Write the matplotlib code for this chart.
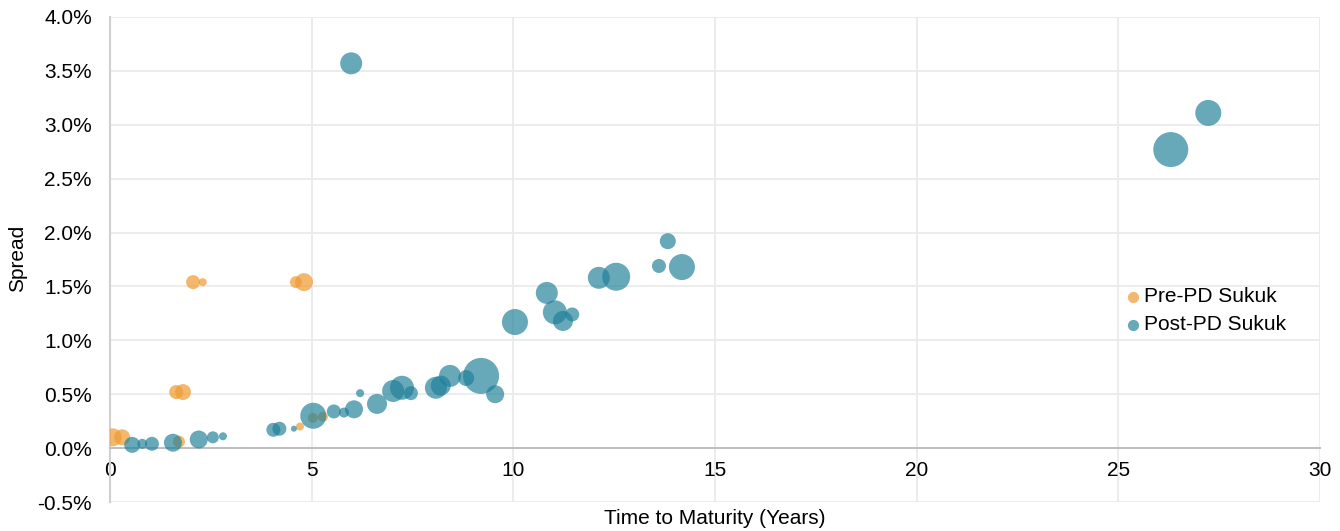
import matplotlib
matplotlib.use("Agg")
import matplotlib.pyplot as plt
from matplotlib.ticker import FuncFormatter, MultipleLocator
import numpy as np

plt.rcParams['font.family'] = ['Liberation Sans', 'DejaVu Sans']

# Pre-PD Sukuk: maturity (years), spread (%), bubble size (relative issue size)
pre_maturity = [0.07, 0.30, 2.06, 2.30, 1.64, 1.81, 4.61, 4.81, 1.71, 4.71, 5.03, 5.28]
pre_spread   = [0.10, 0.10, 1.54, 1.54, 0.52, 0.52, 1.54, 1.54, 0.06, 0.20, 0.28, 0.29]
pre_size     = [81, 64, 49, 16, 49, 64, 36, 81, 36, 16, 25, 25]

# Post-PD Sukuk
post_maturity = [0.55, 0.80, 1.04, 1.56, 2.20, 2.55, 2.80, 4.05, 4.20, 4.56, 5.04,
                 5.55, 5.80, 6.05, 6.20, 6.62, 7.02, 7.24, 7.46, 8.08, 8.20, 8.43,
                 8.83, 9.20, 9.55, 10.04, 10.83, 11.03, 11.23, 11.46, 12.12, 12.55,
                 13.61, 13.83, 14.18, 5.98, 26.30, 27.23]
post_spread   = [0.03, 0.04, 0.04, 0.05, 0.08, 0.10, 0.11, 0.17, 0.18, 0.18, 0.30,
                 0.34, 0.33, 0.36, 0.51, 0.41, 0.53, 0.56, 0.51, 0.56, 0.58, 0.67,
                 0.65, 0.67, 0.50, 1.17, 1.44, 1.26, 1.18, 1.24, 1.58, 1.59,
                 1.69, 1.92, 1.68, 3.57, 2.77, 3.11]
post_size     = [64, 25, 49, 81, 81, 36, 16, 49, 49, 9, 169,
                 49, 25, 81, 16, 100, 121, 144, 49, 121, 100, 121,
                 64, 324, 81, 169, 121, 144, 100, 49, 121, 196,
                 49, 64, 169, 121, 306, 169]

x_ticks = [0, 5, 10, 15, 20, 25, 30]

fig = plt.figure(figsize=(13.40, 5.31), dpi=100)
ax = fig.add_axes([110/1340, 1-502/531, (1320-110)/1340, (502-17)/531])

px_to_pt = 0.72 * 2  # radius px -> diameter pt
def area(v):
    return (np.sqrt(np.array(v, dtype=float)) * px_to_pt) ** 2

orange = (239/255, 155/255, 48/255)
teal = (31/255, 128/255, 153/255)

ax.scatter(pre_maturity, pre_spread, s=area(pre_size), color=orange, alpha=0.7,
           linewidths=0, label='Pre-PD Sukuk', zorder=3)
ax.scatter(post_maturity, post_spread, s=area(post_size), color=teal, alpha=0.68,
           linewidths=0, label='Post-PD Sukuk', zorder=4)

ax.set_xlim(0, 30)
ax.set_ylim(-0.5, 4.0)
ax.set_xticks(x_ticks)
ax.yaxis.set_major_locator(MultipleLocator(0.5))
ax.yaxis.set_major_formatter(FuncFormatter(lambda v, p: f"{v:.1f}%"))

ax.grid(True, color='#EBEBEB', linewidth=1.3, zorder=0)
ax.set_axisbelow(True)

for s in ['top', 'right']:
    ax.spines[s].set_visible(False)
ax.spines['bottom'].set_position(('data', 0))
ax.spines['bottom'].set_color('#BFBFBF')
ax.spines['bottom'].set_linewidth(1.5)
ax.spines['left'].set_color('#D0D0D0')
ax.spines['left'].set_linewidth(1.5)

FS = 15
ax.tick_params(axis='both', length=0, labelsize=FS, colors='black')
ax.tick_params(axis='x', pad=9)
ax.tick_params(axis='y', pad=13)

fig.text((110+1320)/2/1340, 1-519/531, 'Time to Maturity (Years)', ha='center', va='center', fontsize=FS)
fig.text(18/1340, 1-258/531, 'Spread', rotation=90, ha='center', va='center', fontsize=FS)

leg = ax.legend(loc='upper left', bbox_to_anchor=(1114/1340, 1-279/531), bbox_transform=fig.transFigure,
                frameon=False, fontsize=FS, handletextpad=0.05, borderaxespad=0, labelspacing=0.42,
                handlelength=1.0, markerscale=1)
for h in leg.legend_handles:
    h.set_sizes([65])

fig.savefig('out.png', dpi=100)
